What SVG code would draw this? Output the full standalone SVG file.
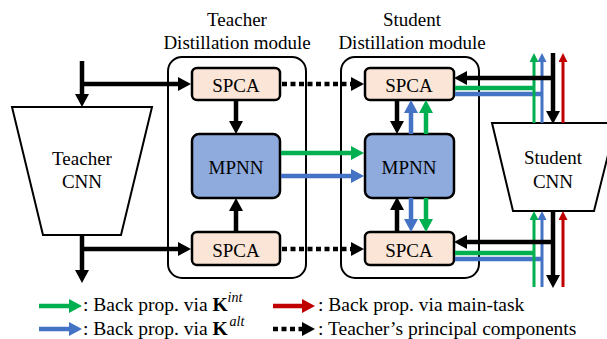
<svg xmlns="http://www.w3.org/2000/svg" width="607" height="339" viewBox="0 0 607 339">
<defs>
<style>
text{font-family:"Liberation Serif","Times New Roman",serif;font-size:19px;fill:#000}
.lg{font-size:19.5px}
.mid{text-anchor:middle}
.box{stroke:#000;stroke-width:2.5}
.spca{fill:#FBE5D6}
.mpnn{fill:#8FAADC}
.mod{fill:none;stroke:#000;stroke-width:2}
.cnn{fill:#fff;stroke:#000;stroke-width:2}
.k{stroke:#000;stroke-width:4.5;fill:none}
.kd{stroke:#000;stroke-width:4.5;fill:none;stroke-dasharray:5 3.5}
.g{stroke:#00B050;stroke-width:4.5;fill:none}
.b{stroke:#4472C4;stroke-width:4.5;fill:none}
.gs{stroke:#00B050;stroke-width:3;fill:none}
.bs{stroke:#4472C4;stroke-width:3;fill:none}
.rs{stroke:#C00000;stroke-width:3;fill:none}
</style>
<marker id="mk" markerUnits="userSpaceOnUse" markerWidth="13" markerHeight="14" refX="4" refY="7" orient="auto"><path d="M0,0 L13,7 L0,14 z" fill="#000"/></marker>
<marker id="mg" markerUnits="userSpaceOnUse" markerWidth="13" markerHeight="14" refX="4" refY="7" orient="auto"><path d="M0,0 L13,7 L0,14 z" fill="#00B050"/></marker>
<marker id="mb" markerUnits="userSpaceOnUse" markerWidth="13" markerHeight="14" refX="4" refY="7" orient="auto"><path d="M0,0 L13,7 L0,14 z" fill="#4472C4"/></marker>
<marker id="mr" markerUnits="userSpaceOnUse" markerWidth="13" markerHeight="14" refX="4" refY="7" orient="auto"><path d="M0,0 L13,7 L0,14 z" fill="#C00000"/></marker>
<marker id="sg" markerUnits="userSpaceOnUse" markerWidth="9" markerHeight="9" refX="3" refY="4.5" orient="auto"><path d="M0,0 L9,4.5 L0,9 z" fill="#00B050"/></marker>
<marker id="sb" markerUnits="userSpaceOnUse" markerWidth="9" markerHeight="9" refX="3" refY="4.5" orient="auto"><path d="M0,0 L9,4.5 L0,9 z" fill="#4472C4"/></marker>
<marker id="sr" markerUnits="userSpaceOnUse" markerWidth="9" markerHeight="9" refX="3" refY="4.5" orient="auto"><path d="M0,0 L9,4.5 L0,9 z" fill="#C00000"/></marker>
</defs>
<rect width="607" height="339" fill="#fff"/>

<g id="teacher-module">
<rect class="mod" x="168" y="57" width="138" height="221" rx="14"/>
<text class="mid" x="237" y="26">Teacher</text>
<text class="mid" x="237" y="49">Distillation module</text>
</g>
<g id="student-module">
<rect class="mod" x="341" y="57" width="138" height="221" rx="14"/>
<text class="mid" x="412" y="26">Student</text>
<text class="mid" x="412" y="49">Distillation module</text>
</g>

<g id="teacher-cnn">
<polygon class="cnn" points="12,107 152,107 121,235 43,235"/>
<text class="mid" x="82" y="165">Teacher</text>
<text class="mid" x="82" y="188">CNN</text>
</g>
<g id="student-cnn">
<polygon class="cnn" points="492,123 616,123 594,211 513,211"/>
<text class="mid" x="553" y="164">Student</text>
<text class="mid" x="553" y="188">CNN</text>
</g>

<g id="teacher-spca-top">
<rect class="box spca" x="192" y="68" width="88" height="32" rx="5"/>
<text class="mid" x="236" y="92">SPCA</text>
</g>
<g id="teacher-mpnn">
<rect class="box mpnn" x="192" y="134" width="88" height="64" rx="7"/>
<text class="mid" x="236" y="174">MPNN</text>
</g>
<g id="teacher-spca-bottom">
<rect class="box spca" x="192" y="232" width="88" height="33" rx="5"/>
<text class="mid" x="236" y="257">SPCA</text>
</g>
<g id="student-spca-top">
<rect class="box spca" x="365" y="68" width="89" height="32" rx="5"/>
<text class="mid" x="409" y="92">SPCA</text>
</g>
<g id="student-mpnn">
<rect class="box mpnn" x="365" y="134" width="89" height="64" rx="7"/>
<text class="mid" x="409" y="174">MPNN</text>
</g>
<g id="student-spca-bottom">
<rect class="box spca" x="365" y="232" width="89" height="33" rx="5"/>
<text class="mid" x="409" y="257">SPCA</text>
</g>

<g id="connectors">
<path class="k" d="M82,61 V98" marker-end="url(#mk)"/>
<path class="k" d="M82,84 H182" marker-end="url(#mk)"/>
<path class="k" d="M82,235 V274" marker-end="url(#mk)"/>
<path class="k" d="M82,249 H182" marker-end="url(#mk)"/>
<path class="k" d="M236,100 V125" marker-end="url(#mk)"/>
<path class="k" d="M236,232 V207" marker-end="url(#mk)"/>
<path class="kd" d="M282,84 H355" marker-end="url(#mk)"/>
<path class="kd" d="M282,249 H355" marker-end="url(#mk)"/>
<path class="g" d="M281,153 H355" marker-end="url(#mg)"/>
<path class="b" d="M281,176 H355" marker-end="url(#mb)"/>
<path class="k" d="M397,100 V125" marker-end="url(#mk)"/>
<path class="k" d="M397,232 V206" marker-end="url(#mk)"/>
<path class="b" d="M411,134 V109" marker-end="url(#mb)"/>
<path class="g" d="M426,134 V109" marker-end="url(#mg)"/>
<path class="b" d="M411,198 V223" marker-end="url(#mb)"/>
<path class="g" d="M426,198 V223" marker-end="url(#mg)"/>
<path class="g" d="M455,88 H535"/>
<path class="b" d="M455,94 H543"/>
<path class="gs" d="M534,123 V59" marker-end="url(#sg)"/>
<path class="bs" d="M542,123 V59" marker-end="url(#sb)"/>
<path class="rs" d="M563,123 V59" marker-end="url(#sr)"/>
<path class="k" d="M553,53 V115" marker-end="url(#mk)"/>
<path class="k" d="M555,78 H463" marker-end="url(#mk)"/>
<path class="g" d="M455,253 H535"/>
<path class="b" d="M455,259 H543"/>
<path class="gs" d="M534,287 V217" marker-end="url(#sg)"/>
<path class="bs" d="M542,287 V217" marker-end="url(#sb)"/>
<path class="rs" d="M563,287 V217" marker-end="url(#sr)"/>
<path class="k" d="M553,211 V279" marker-end="url(#mk)"/>
<path class="k" d="M555,242 H463" marker-end="url(#mk)"/>
</g>

<g id="legend">
<path class="g" d="M39,306 H73" marker-end="url(#mg)"/>
<text class="lg" x="83" y="311">: Back prop. via <tspan font-weight="bold">K</tspan><tspan font-style="italic" font-size="14" dy="-9">int</tspan></text>
<path class="b" d="M39,329 H73" marker-end="url(#mb)"/>
<text class="lg" x="83" y="335">: Back prop. via <tspan font-weight="bold">K</tspan><tspan font-style="italic" font-size="14" dx="2" dy="-9">alt</tspan></text>
<path class="rs" style="stroke-width:4.5" d="M273,306 H306" marker-end="url(#mr)"/>
<text class="lg" x="318" y="311">: Back prop. via main-task</text>
<path class="kd" d="M273,329 H306" marker-end="url(#mk)"/>
<text class="lg" x="318" y="335">: Teacher’s principal components</text>
</g>
</svg>
